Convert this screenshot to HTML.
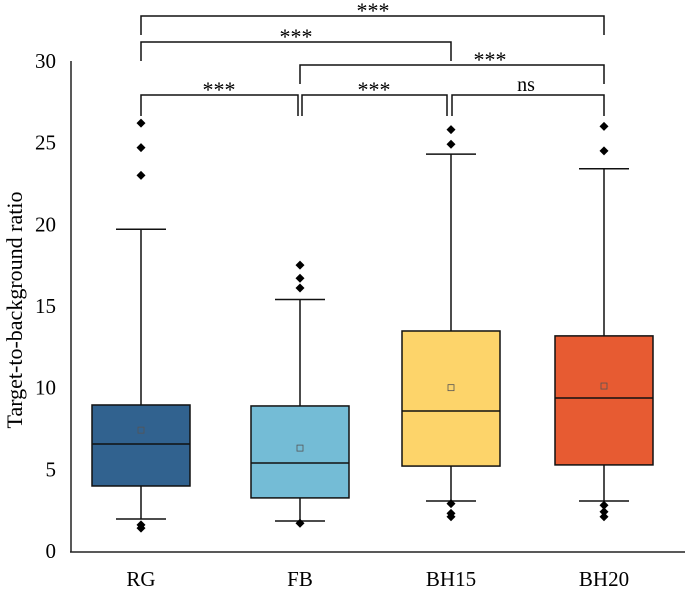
<!DOCTYPE html>
<html><head><meta charset="utf-8"><style>
body{margin:0;background:#fff}
svg text{font-family:"Liberation Serif",serif;fill:#000}
</style></head><body>
<svg id="chart" width="685" height="592" xmlns="http://www.w3.org/2000/svg">
<g id="axes"></g><g id="marks"></g><g id="sig"></g>
</svg>
<script>
const categories=["RG","FB","BH15","BH20"];
const colors=["#31628f","#74bcd6","#fdd46a","#e75b32"];
const whiskerLow=[1.96,1.84,3.06,3.06];
const q1=[3.98,3.25,5.2,5.27];
const medians=[6.55,5.39,8.57,9.37];
const q3=[8.94,8.88,13.47,13.17];
const whiskerHigh=[19.7,15.4,24.3,23.4];
const means=[7.4,6.3,10.0,10.1];
const outliers=[[1.4,1.6,23.0,24.7,26.2],[1.7,16.1,16.7,17.5],[2.1,2.3,2.9,24.9,25.8],[2.1,2.4,2.8,24.5,26.0]];
const yTicks=[0,5,10,15,20,25,30];
const sigLabels=["***","***","ns","***","***","***"];
const sigPairs=[[0,1],[1,2],[2,3],[1,3],[0,2],[0,3]];

const NS="http://www.w3.org/2000/svg";
const y=v=>551-v*(490/30);
const xc=i=>[141,300,451,604][i];
function mk(p,tag,attrs){const e=document.createElementNS(NS,tag);for(const k in attrs)e.setAttribute(k,attrs[k]);p.appendChild(e);return e;}
const axes=document.getElementById('axes'),marks=document.getElementById('marks'),sig=document.getElementById('sig');
let e=mk(axes,'line',{x1:71,y1:y(30),x2:71,y2:552,stroke:'#222','stroke-width':1.5});

e=mk(axes,'line',{x1:70,y1:552,x2:685,y2:552,stroke:'#222','stroke-width':1.5});

yTicks.forEach(t=>{const tx=mk(axes,'text',{x:56,y:y(t)+7,'text-anchor':'end','font-size':21});tx.textContent=t;
});
categories.forEach((c,i)=>{const tx=mk(axes,'text',{x:xc(i),y:586,'text-anchor':'middle','font-size':21});tx.textContent=c;
});
e=mk(axes,'text',{x:0,y:0,'text-anchor':'middle','font-size':22,transform:'translate(22,310) rotate(-90)'});
e.textContent='Target-to-background ratio';

categories.forEach((c,i)=>{
 const g=mk(marks,'g',{});
 const cx=xc(i),hw=49;
 mk(g,'line',{x1:cx,y1:y(whiskerHigh[i]),x2:cx,y2:y(q3[i]),stroke:'#111','stroke-width':1.5});
 mk(g,'line',{x1:cx,y1:y(q1[i]),x2:cx,y2:y(whiskerLow[i]),stroke:'#111','stroke-width':1.5});
 mk(g,'line',{x1:cx-25,y1:y(whiskerHigh[i]),x2:cx+25,y2:y(whiskerHigh[i]),stroke:'#111','stroke-width':1.5});
 mk(g,'line',{x1:cx-25,y1:y(whiskerLow[i]),x2:cx+25,y2:y(whiskerLow[i]),stroke:'#111','stroke-width':1.5});
 mk(g,'rect',{x:cx-hw,y:y(q3[i]),width:hw*2,height:y(q1[i])-y(q3[i]),fill:colors[i],stroke:'#111','stroke-width':1.5});
 mk(g,'line',{x1:cx-hw,y1:y(medians[i]),x2:cx+hw,y2:y(medians[i]),stroke:'#111','stroke-width':1.5});
 mk(g,'rect',{x:cx-3,y:y(means[i])-3,width:6,height:6,fill:'none',stroke:'#555','stroke-width':0.8});
 outliers[i].forEach(v=>{const py=y(v);mk(g,'path',{d:`M${cx} ${py-4.5}L${cx+4.5} ${py}L${cx} ${py+4.5}L${cx-4.5} ${py}Z`,fill:'#000'});});
});
const sigGeom=[[95,116],[95,116],[95,116],[65,84],[42,61],[16,35]];
const sigX=[[141,298],[302,447],[452,604],[300,604],[141,451],[141,604]];
const sigTextX=[219,374,526,490,296,373];
sigPairs.forEach((p,k)=>{
 const g=mk(sig,'g',{});
 const [yt,yb]=sigGeom[k],[x1,x2]=sigX[k];
 mk(g,'path',{d:`M${x1} ${yb}V${yt}H${x2}V${yb}`,fill:'none',stroke:'#111','stroke-width':1.5});
 const isStar=sigLabels[k]!=='ns';
 const tx=mk(g,'text',{x:sigTextX[k],y:yt+(isStar?2:-4),'text-anchor':'middle','font-size':isStar?22:20});tx.textContent=sigLabels[k];
});
</script>
</body></html>
